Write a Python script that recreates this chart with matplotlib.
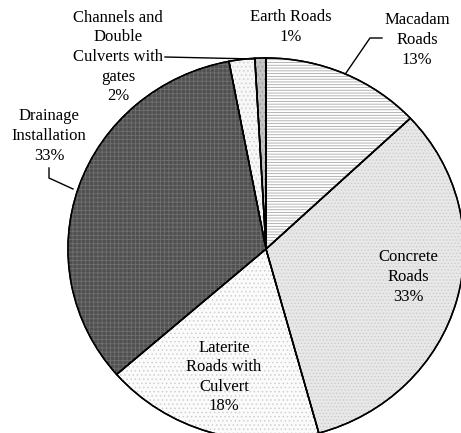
import matplotlib.pyplot as plt
from matplotlib.patches import Wedge

plt.rcParams['font.family'] = ['Liberation Serif', 'DejaVu Serif']
plt.rcParams['hatch.linewidth'] = 0.6

# slices counter-clockwise from the top
labels = ['Earth Roads', 'Channels and\nDouble\nCulverts with\ngates', 'Drainage\nInstallation',
          'Laterite\nRoads with\nCulvert', 'Concrete\nRoads', 'Macadam\nRoads']
values = [0.9, 2.1, 33.4, 17.9, 32.7, 13.0]
faces = ['#c4c4c4', '#f7f7f7', '#505050', '#fbfbfb', '#e8e8e8', '#ffffff']
hatches = ['....', '....', '++++', '....', '.....', '------']
hatch_cols = ['#9a9a9a', '#cfcfcf', '#707070', '#d0d0d0', '#cccccc', '#a8a8a8']

W, H = 461, 433
cx, cy, rx, ry = 266, 249, 198, 191

def px(x, y):
    return (x - cx) / rx, (cy - y) / ry

fig = plt.figure(figsize=(W / 100, H / 100), dpi=100)
ax = fig.add_axes([0, 0, 1, 1])

wedges, _ = ax.pie(values, startangle=90, counterclock=True, radius=1,
                   colors=faces, wedgeprops=dict(edgecolor='black', linewidth=1.1))
for w, h, hc in zip(wedges, hatches, hatch_cols):
    ov = Wedge(w.center, w.r, w.theta1, w.theta2, facecolor='none',
               edgecolor=hc, hatch=h, linewidth=0)
    ax.add_patch(ov)
    w.set_zorder(1)
    ov.set_zorder(2)
for w in wedges:
    ax.add_patch(Wedge(w.center, w.r, w.theta1, w.theta2, facecolor='none',
                       edgecolor='black', linewidth=1.1, zorder=3))
ax.set_aspect('auto')
ax.set_xlim(-cx / rx, (W - cx) / rx)
ax.set_ylim((cy - H) / ry, cy / ry)
ax.axis('off')

total = sum(values)
label_pos = [(291, 27), (118, 57), (49, 136), (224, 377), (408, 277), (417, 40)]
for lab, v, (x, y) in zip(labels, values, label_pos):
    ax.text(*px(x, y), f'{lab}\n{v / total * 100:.0f}%', ha='center', va='center',
            fontsize=12, linespacing=1.3, zorder=5)

# leader lines
leaders = [
    [(382, 38), (370, 38), (346, 73)],
    [(165, 57), (255, 59)],
    [(49, 168), (49, 178), (73, 189)],
]
for pts in leaders:
    xs, ys = zip(*[px(x, y) for x, y in pts])
    ax.plot(xs, ys, color='black', linewidth=1, zorder=4)

plt.savefig('out.png', dpi=100)
plt.close()
